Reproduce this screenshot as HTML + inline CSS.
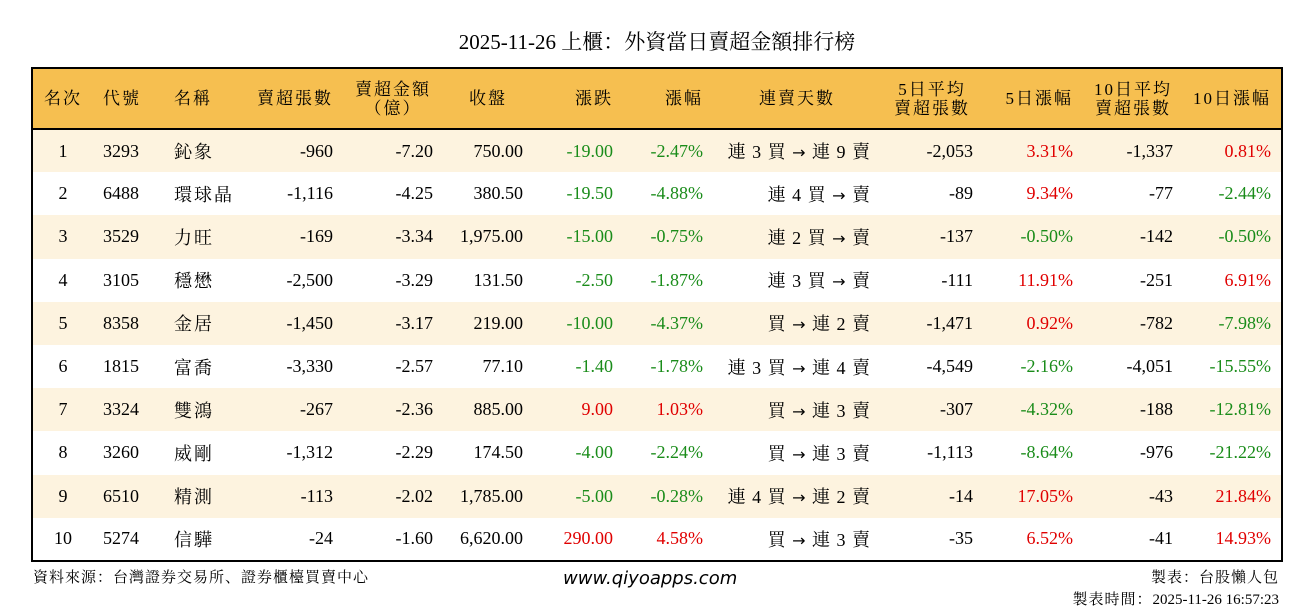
<!DOCTYPE html>
<html><head><meta charset="utf-8">
<style>
body{margin:0;width:1314px;height:612px;background:#fff;font-family:"Liberation Serif","Noto Serif CJK SC",serif;color:#000;position:relative;overflow:hidden}
.title{position:absolute;top:28px;left:0;width:1314px;text-align:center;font-size:21px;line-height:28px}
table{position:absolute;left:31px;top:67px;width:1252px;border-collapse:collapse;table-layout:fixed;border:2px solid #000}
th{background:#f6bf50;font-weight:normal;font-size:17px;line-height:19px;height:59px;padding:0 10px;border-bottom:2px solid #000;text-align:right;letter-spacing:2px}
td{font-size:18px;height:43.2px;padding:0 10px;text-align:right;white-space:nowrap;box-sizing:border-box}
td.n{letter-spacing:2px}
tr:nth-child(odd) td{background:#fdf3df}
.c{text-align:center}.l{text-align:left}
.g{color:#1a8c1a}.r{color:#e00000}
.a{font-family:"DejaVu Sans",sans-serif;font-size:16px}
.d{letter-spacing:1px}
.foot{position:absolute;font-size:15px}
.s{letter-spacing:1px}
</style></head><body>
<div class="title">2025-11-26 上櫃：外資當日賣超金額排行榜</div>
<table>
<colgroup><col style="width:61px"><col style="width:71px"><col style="width:79px"><col style="width:100px"><col style="width:100px"><col style="width:90px"><col style="width:90px"><col style="width:90px"><col style="width:168px"><col style="width:102px"><col style="width:100px"><col style="width:100px"><col style="width:99px"></colgroup>
<thead><tr><th class="c">名次</th><th class="l">代號</th><th class="l">名稱</th><th>賣超張數</th><th class="c">賣超金額<br>（億）</th><th class="c">收盤</th><th>漲跌</th><th>漲幅</th><th class="c">連賣天數</th><th class="c">5日平均<br>賣超張數</th><th>5日漲幅</th><th class="c">10日平均<br>賣超張數</th><th>10日漲幅</th></tr></thead>
<tbody>
<tr><td class="c">1</td><td class="l">3293</td><td class="l n">鈊象</td><td>-960</td><td>-7.20</td><td>750.00</td><td class="g">-19.00</td><td class="g">-2.47%</td><td class="d">連 3 買 <span class="a">→</span> 連 9 賣</td><td>-2,053</td><td class="r">3.31%</td><td>-1,337</td><td class="r">0.81%</td></tr>
<tr><td class="c">2</td><td class="l">6488</td><td class="l n">環球晶</td><td>-1,116</td><td>-4.25</td><td>380.50</td><td class="g">-19.50</td><td class="g">-4.88%</td><td class="d">連 4 買 <span class="a">→</span> 賣</td><td>-89</td><td class="r">9.34%</td><td>-77</td><td class="g">-2.44%</td></tr>
<tr><td class="c">3</td><td class="l">3529</td><td class="l n">力旺</td><td>-169</td><td>-3.34</td><td>1,975.00</td><td class="g">-15.00</td><td class="g">-0.75%</td><td class="d">連 2 買 <span class="a">→</span> 賣</td><td>-137</td><td class="g">-0.50%</td><td>-142</td><td class="g">-0.50%</td></tr>
<tr><td class="c">4</td><td class="l">3105</td><td class="l n">穩懋</td><td>-2,500</td><td>-3.29</td><td>131.50</td><td class="g">-2.50</td><td class="g">-1.87%</td><td class="d">連 3 買 <span class="a">→</span> 賣</td><td>-111</td><td class="r">11.91%</td><td>-251</td><td class="r">6.91%</td></tr>
<tr><td class="c">5</td><td class="l">8358</td><td class="l n">金居</td><td>-1,450</td><td>-3.17</td><td>219.00</td><td class="g">-10.00</td><td class="g">-4.37%</td><td class="d">買 <span class="a">→</span> 連 2 賣</td><td>-1,471</td><td class="r">0.92%</td><td>-782</td><td class="g">-7.98%</td></tr>
<tr><td class="c">6</td><td class="l">1815</td><td class="l n">富喬</td><td>-3,330</td><td>-2.57</td><td>77.10</td><td class="g">-1.40</td><td class="g">-1.78%</td><td class="d">連 3 買 <span class="a">→</span> 連 4 賣</td><td>-4,549</td><td class="g">-2.16%</td><td>-4,051</td><td class="g">-15.55%</td></tr>
<tr><td class="c">7</td><td class="l">3324</td><td class="l n">雙鴻</td><td>-267</td><td>-2.36</td><td>885.00</td><td class="r">9.00</td><td class="r">1.03%</td><td class="d">買 <span class="a">→</span> 連 3 賣</td><td>-307</td><td class="g">-4.32%</td><td>-188</td><td class="g">-12.81%</td></tr>
<tr><td class="c">8</td><td class="l">3260</td><td class="l n">威剛</td><td>-1,312</td><td>-2.29</td><td>174.50</td><td class="g">-4.00</td><td class="g">-2.24%</td><td class="d">買 <span class="a">→</span> 連 3 賣</td><td>-1,113</td><td class="g">-8.64%</td><td>-976</td><td class="g">-21.22%</td></tr>
<tr><td class="c">9</td><td class="l">6510</td><td class="l n">精測</td><td>-113</td><td>-2.02</td><td>1,785.00</td><td class="g">-5.00</td><td class="g">-0.28%</td><td class="d">連 4 買 <span class="a">→</span> 連 2 賣</td><td>-14</td><td class="r">17.05%</td><td>-43</td><td class="r">21.84%</td></tr>
<tr><td class="c">10</td><td class="l">5274</td><td class="l n">信驊</td><td>-24</td><td>-1.60</td><td>6,620.00</td><td class="r">290.00</td><td class="r">4.58%</td><td class="d">買 <span class="a">→</span> 連 3 賣</td><td>-35</td><td class="r">6.52%</td><td>-41</td><td class="r">14.93%</td></tr>
</tbody></table>
<div class="foot s" style="left:33px;top:566px">資料來源：台灣證券交易所、證券櫃檯買賣中心</div>
<div class="foot" style="left:563px;top:568px;font-family:'DejaVu Sans',sans-serif;font-style:italic;font-size:18px">www.qiyoapps.com</div>
<div class="foot s" style="right:35px;top:566px">製表：台股懶人包</div>
<div class="foot" style="right:35px;top:588px"><span class="s">製表時間：</span>2025-11-26 16:57:23</div>
</body></html>
